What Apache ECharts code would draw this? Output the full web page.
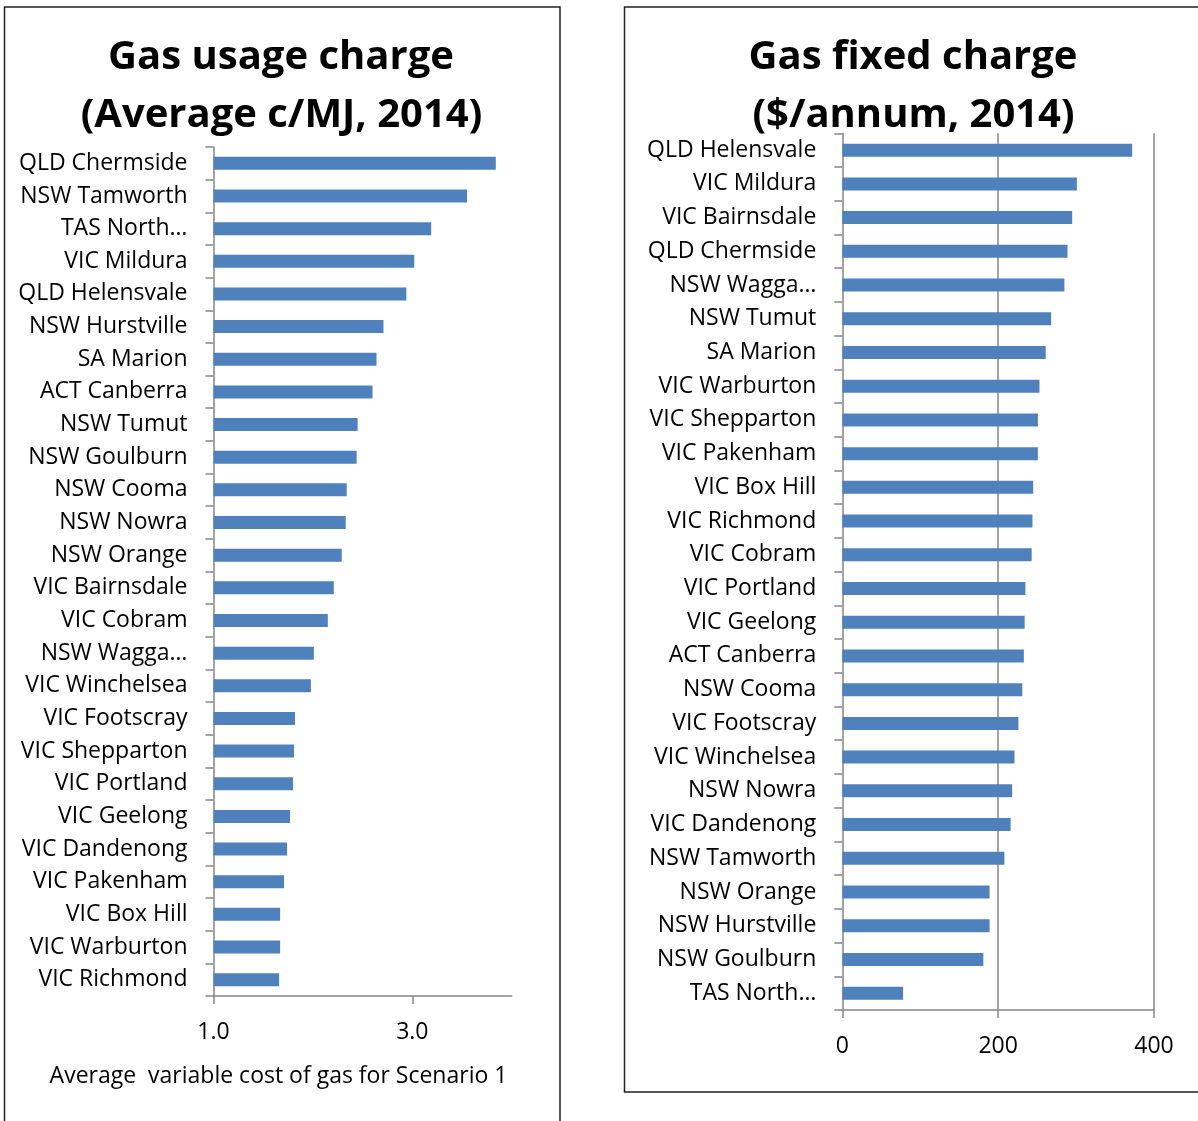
<!DOCTYPE html>
<html>
<head>
<meta charset="utf-8">
<script src="https://cdn.jsdelivr.net/npm/echarts@6/dist/echarts.min.js"></script>
<style>
html,body{margin:0;padding:0;background:#fff;}
#chart{width:1198px;height:1121px;}
</style>
</head>
<body>
<div id="chart"></div>
<script>
// ---- Data ----
const usageTitle = ['Gas usage charge', '(Average c/MJ, 2014)'];
const usageAxisTitle = 'Average  variable cost of gas for Scenario 1';
const usageCategories = ['QLD Chermside','NSW Tamworth','TAS North…','VIC Mildura','QLD Helensvale','NSW Hurstville','SA Marion','ACT Canberra','NSW Tumut','NSW Goulburn','NSW Cooma','NSW Nowra','NSW Orange','VIC Bairnsdale','VIC Cobram','NSW Wagga…','VIC Winchelsea','VIC Footscray','VIC Shepparton','VIC Portland','VIC Geelong','VIC Dandenong','VIC Pakenham','VIC Box Hill','VIC Warburton','VIC Richmond'];
const usageValues = [3.84,3.55,3.19,3.02,2.94,2.71,2.64,2.60,2.45,2.44,2.34,2.33,2.29,2.21,2.15,2.01,1.98,1.82,1.81,1.80,1.77,1.74,1.71,1.67,1.67,1.66];
const usageTicks = [1.0, 3.0];

const fixedTitle = ['Gas fixed charge', '($/annum, 2014)'];
const fixedCategories = ['QLD Helensvale','VIC Mildura','VIC Bairnsdale','QLD Chermside','NSW Wagga…','NSW Tumut','SA Marion','VIC Warburton','VIC Shepparton','VIC Pakenham','VIC Box Hill','VIC Richmond','VIC Cobram','VIC Portland','VIC Geelong','ACT Canberra','NSW Cooma','VIC Footscray','VIC Winchelsea','NSW Nowra','VIC Dandenong','NSW Tamworth','NSW Orange','NSW Hurstville','NSW Goulburn','TAS North…'];
const fixedValues = [372,301,295,289,285,268,261,253,251,251,245,244,243,235,234,233,231,226,221,218,216,208,189,189,181,78];
const fixedTicks = [0, 200, 400];

// ---- Styles ----
const FONT = '"Open Sans", "Noto Sans", sans-serif';
const AXIS_GRAY = '#868686';
const BAR_BLUE = '#4F81BD';
const lineSt = {color: AXIS_GRAY, width: 1.5};

function valueAxis(gridIndex, min, max, interval, ticks, decimals) {
  return {
    gridIndex, type: 'value', min, max, interval,
    axisLine: {show: true, lineStyle: lineSt},
    axisTick: {show: true, length: 8, lineStyle: lineSt, customValues: ticks},
    axisLabel: {
      fontFamily: FONT, fontSize: 23, color: '#000', margin: 25,
      formatter: v => ticks.some(t => Math.abs(t - v) < 1e-9) ? v.toFixed(decimals) : ''
    },
    splitLine: {show: true, showMinLine: false, lineStyle: lineSt}
  };
}
function catAxis(gridIndex, data) {
  return {
    gridIndex, type: 'category', inverse: true, data,
    axisLine: {show: true, lineStyle: lineSt},
    axisTick: {show: true, length: 8, lineStyle: lineSt},
    axisLabel: {fontFamily: FONT, fontSize: 23, color: '#000', margin: 26, interval: 0}
  };
}

const chart = echarts.init(document.getElementById('chart'), null, {renderer: 'canvas'});
const x0 = valueAxis(0, 1, 4, 2, usageTicks, 1);
x0.splitLine.showMaxLine = false;
const titleFont = 'bold 40px ' + FONT;
const txt = (x, y, text, font) => ({type: 'text', x, y, style: {text, font, fill: '#000', align: 'center', verticalAlign: 'middle', textAlign: 'center', textVerticalAlign: 'middle'}});
const option = {
  animation: false,
  backgroundColor: '#fff',
  grid: [
    {left: 213.5, top: 147, width: 298.2, height: 849},
    {left: 842.3, top: 133.3, width: 311.7, height: 876.7}
  ],
  xAxis: [x0, valueAxis(1, 0, 400, 200, fixedTicks, 0)],
  yAxis: [catAxis(0, usageCategories), catAxis(1, fixedCategories)],
  series: [
    {type: 'bar', xAxisIndex: 0, yAxisIndex: 0, data: usageValues, barWidth: 13, itemStyle: {color: BAR_BLUE}, clip: true},
    {type: 'bar', xAxisIndex: 1, yAxisIndex: 1, data: fixedValues, barWidth: 13, itemStyle: {color: BAR_BLUE}, clip: true}
  ],
  graphic: [
    {type: 'rect', z: -1, shape: {x: 4.5, y: 7, width: 555.5, height: 1140}, style: {fill: 'none', stroke: '#222', lineWidth: 1.5}},
    {type: 'rect', z: -1, shape: {x: 624.5, y: 7, width: 600, height: 1085}, style: {fill: 'none', stroke: '#222', lineWidth: 1.5}},
    txt(281, 58, usageTitle[0], titleFont),
    txt(281.5, 116, usageTitle[1], titleFont),
    txt(913, 58, fixedTitle[0], titleFont),
    txt(913.5, 116, fixedTitle[1], titleFont),
    txt(278.5, 1076, usageAxisTitle, '23px ' + FONT)
  ]
};
chart.setOption(option);
</script>
</body>
</html>
